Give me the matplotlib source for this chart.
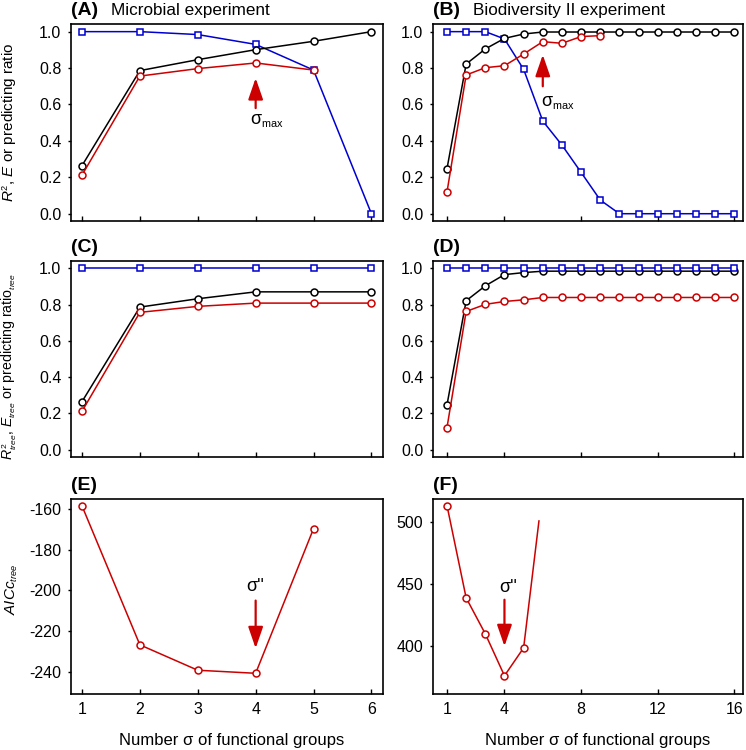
import matplotlib
matplotlib.use("Agg")
import matplotlib.pyplot as plt
import numpy as np

try:
    import matplotlib._mathtext as _mt
    _mt.SHRINK_FACTOR = 0.6
except Exception:
    pass

plt.rcParams['font.family'] = ['Liberation Sans', 'DejaVu Sans']
plt.rcParams['mathtext.fontset'] = 'custom'
plt.rcParams['mathtext.rm'] = 'Liberation Sans'
plt.rcParams['mathtext.it'] = 'Liberation Sans:italic'
plt.rcParams['mathtext.bf'] = 'Liberation Sans:bold'
plt.rcParams['axes.unicode_minus'] = False

# ---------------- data ----------------
A_x = [1, 2, 3, 4, 5, 6]
A_black = [0.264, 0.786, 0.846, 0.901, 0.947, 1.0]
A_red_x = [1, 2, 3, 4, 5]
A_red = [0.212, 0.756, 0.797, 0.828, 0.789]
A_blue = [1.0, 1.0, 0.984, 0.930, 0.789, 0.0]

B_x = list(range(1, 17))
B_black = [0.247, 0.822, 0.905, 0.963, 0.987, 0.998, 0.998, 0.998,
           0.998, 0.998, 0.998, 0.998, 0.998, 0.998, 0.998, 0.998]
B_red_x = list(range(1, 10))
B_red = [0.119, 0.762, 0.802, 0.813, 0.877, 0.945, 0.936, 0.973, 0.978]
B_blue = [1.0, 1.0, 1.0, 0.960, 0.793, 0.509, 0.377, 0.227, 0.075,
          0.0, 0.0, 0.0, 0.0, 0.0, 0.0, 0.0]

C_x = [1, 2, 3, 4, 5, 6]
C_black = [0.265, 0.786, 0.832, 0.870, 0.870, 0.870]
C_red = [0.212, 0.757, 0.790, 0.808, 0.808, 0.808]
C_blue = [1.0, 1.0, 1.0, 1.0, 1.0, 1.0]

D_x = list(range(1, 17))
D_black = [0.247, 0.821, 0.903, 0.965, 0.976, 0.984, 0.984, 0.984,
           0.984, 0.984, 0.984, 0.984, 0.984, 0.984, 0.984, 0.984]
D_red = [0.122, 0.762, 0.801, 0.817, 0.826, 0.839, 0.839, 0.839,
         0.839, 0.839, 0.839, 0.839, 0.839, 0.839, 0.839, 0.839]
D_blue = [1.0] * 16

E_x = [1, 2, 3, 4, 5]
E_aicc = [-158.4, -226.8, -239.3, -240.8, -169.6]

F_x = [1, 2, 3, 4, 5]
F_aicc = [513.4, 439.0, 410.0, 376.2, 398.7]
F_line_end_x = 5.8
F_line_end_y = 501.0

RED = '#cc0000'
BLUE = '#0000d0'
BLACK = '#000000'

W, H = 746, 750
fig = plt.figure(figsize=(W / 100, H / 100), dpi=100)


def make_ax(l, t, r, b):
    return fig.add_axes([l / W, 1 - b / H, (r - l) / W, (b - t) / H])


axA = make_ax(71, 24, 383, 221)
axB = make_ax(433, 24, 743, 221)
axC = make_ax(71, 261, 383, 457)
axD = make_ax(433, 261, 743, 457)
axE = make_ax(71, 499, 383, 694)
axF = make_ax(433, 499, 743, 694)

mk = dict(markerfacecolor='white', markeredgewidth=1.1, linewidth=1.1)


def series(ax, x, y, color, marker):
    ms = 5.0 if marker == 'o' else 4.5
    ax.plot(x, y, color=color, marker=marker, markeredgecolor=color,
            markersize=ms, clip_on=False, zorder=3, **mk)


def style(ax):
    for s in ax.spines.values():
        s.set_linewidth(1.2)
    ax.tick_params(axis='y', direction='out', length=2.0, width=1.0,
                   labelsize=11.5, pad=5)
    ax.tick_params(axis='x', direction='in', length=3.5, width=1.0,
                   labelsize=11.5, pad=6)
    ax.tick_params(top=False, right=False)


def title(ax, letter, text, width_px):
    ax.text(0.0, 1 + 9 / 197, letter, transform=ax.transAxes,
            fontsize=14, fontweight='bold', va='baseline', ha='left')
    if text:
        ax.text(40 / width_px, 1 + 9 / 197, text, transform=ax.transAxes,
                fontsize=12.3, va='baseline', ha='left')


def arrow(ax, x, ytail, ytip):
    ax.annotate('', xy=(x, ytip), xytext=(x, ytail),
                arrowprops=dict(arrowstyle='-|>,head_length=1.3,head_width=0.45',
                                color=RED, lw=1.6, shrinkA=0, shrinkB=0,
                                mutation_scale=10))


# ---- A ----
series(axA, A_x, A_blue, BLUE, 's')
series(axA, A_x, A_black, BLACK, 'o')
series(axA, A_red_x, A_red, RED, 'o')
axA.set_xlim(0.81, 6.2)
axA.set_ylim(-0.04, 1.042)
axA.set_xticks(A_x)
axA.set_xticklabels([])
axA.set_yticks([0, 0.2, 0.4, 0.6, 0.8, 1.0])
axA.set_yticklabels(['0.0', '0.2', '0.4', '0.6', '0.8', '1.0'])
arrow(axA, 4, 0.58, 0.745)
axA.text(4.2, 0.51, r'σ$_{\mathrm{max}}$', fontsize=13, ha='center', va='center')
axA.set_ylabel('$R^2$, $E$ or predicting ratio', fontsize=11)
title(axA, '(A)', 'Microbial experiment', 312)

# ---- B ----
series(axB, B_x, B_blue, BLUE, 's')
series(axB, B_x, B_black, BLACK, 'o')
series(axB, B_red_x, B_red, RED, 'o')
axB.set_xlim(0.27, 16.45)
axB.set_ylim(-0.04, 1.042)
axB.set_xticks([1, 4, 8, 12, 16])
axB.set_xticklabels([])
axB.set_yticks([0, 0.2, 0.4, 0.6, 0.8, 1.0])
axB.set_yticklabels(['0.0', '0.2', '0.4', '0.6', '0.8', '1.0'])
arrow(axB, 6, 0.70, 0.873)
axB.text(6.8, 0.61, r'σ$_{\mathrm{max}}$', fontsize=13, ha='center', va='center')
title(axB, '(B)', 'Biodiversity II experiment', 310)

# ---- C ----
series(axC, C_x, C_black, BLACK, 'o')
series(axC, C_x, C_red, RED, 'o')
series(axC, C_x, C_blue, BLUE, 's')
axC.set_xlim(0.81, 6.2)
axC.set_ylim(-0.04, 1.04)
axC.set_xticks(C_x)
axC.set_xticklabels([])
axC.set_yticks([0, 0.2, 0.4, 0.6, 0.8, 1.0])
axC.set_yticklabels(['0.0', '0.2', '0.4', '0.6', '0.8', '1.0'])
axC.set_ylabel(r'$R^2_{tree}$, $E_{tree}$ or predicting ratio$_{tree}$', fontsize=10.2)
title(axC, '(C)', None, 312)

# ---- D ----
series(axD, D_x, D_black, BLACK, 'o')
series(axD, D_x, D_red, RED, 'o')
series(axD, D_x, D_blue, BLUE, 's')
axD.set_xlim(0.27, 16.45)
axD.set_ylim(-0.04, 1.04)
axD.set_xticks([1, 4, 8, 12, 16])
axD.set_xticklabels([])
axD.set_yticks([0, 0.2, 0.4, 0.6, 0.8, 1.0])
axD.set_yticklabels(['0.0', '0.2', '0.4', '0.6', '0.8', '1.0'])
title(axD, '(D)', None, 310)

# ---- E ----
series(axE, E_x, E_aicc, RED, 'o')
axE.set_xlim(0.81, 6.2)
axE.set_ylim(-251, -155)
axE.set_xticks([1, 2, 3, 4, 5, 6])
axE.set_yticks([-240, -220, -200, -180, -160])
arrow(axE, 4, -205, -228.5)
axE.text(4.0, -198, "σ''", fontsize=13, ha='center', va='center')
axE.set_ylabel('$AICc_{tree}$', fontsize=11)
axE.set_xlabel('Number σ of functional groups', fontsize=12, labelpad=8)
title(axE, '(E)', None, 312)

# ---- F ----
series(axF, F_x, F_aicc, RED, 'o')
axF.plot([F_x[-1], F_line_end_x], [F_aicc[-1], F_line_end_y], color=RED,
         linewidth=1.1, zorder=2)
axF.set_xlim(0.27, 16.45)
axF.set_ylim(361.5, 518.7)
axF.set_xticks([1, 4, 8, 12, 16])
axF.set_yticks([400, 450, 500])
arrow(axF, 4, 437.5, 400)
axF.text(4.2, 447, "σ''", fontsize=13, ha='center', va='center')
axF.set_xlabel('Number σ of functional groups', fontsize=12, labelpad=8)
title(axF, '(F)', None, 310)

for ax in [axA, axB, axC, axD, axE, axF]:
    style(ax)

for ax, xpix, yfrac in [(axA, 10, 0.5), (axC, 9, 0.46), (axE, 12, 0.535)]:
    ax.yaxis.set_label_coords((xpix - 71) / 312, yfrac)
    ax.yaxis.label.set_va('center')
axE.xaxis.set_label_coords(0.515, -0.2)
axF.xaxis.set_label_coords(0.53, -0.2)
for ax in [axE, axF]:
    ax.xaxis.label.set_va('top')

fig.savefig('out.png', dpi=100)
